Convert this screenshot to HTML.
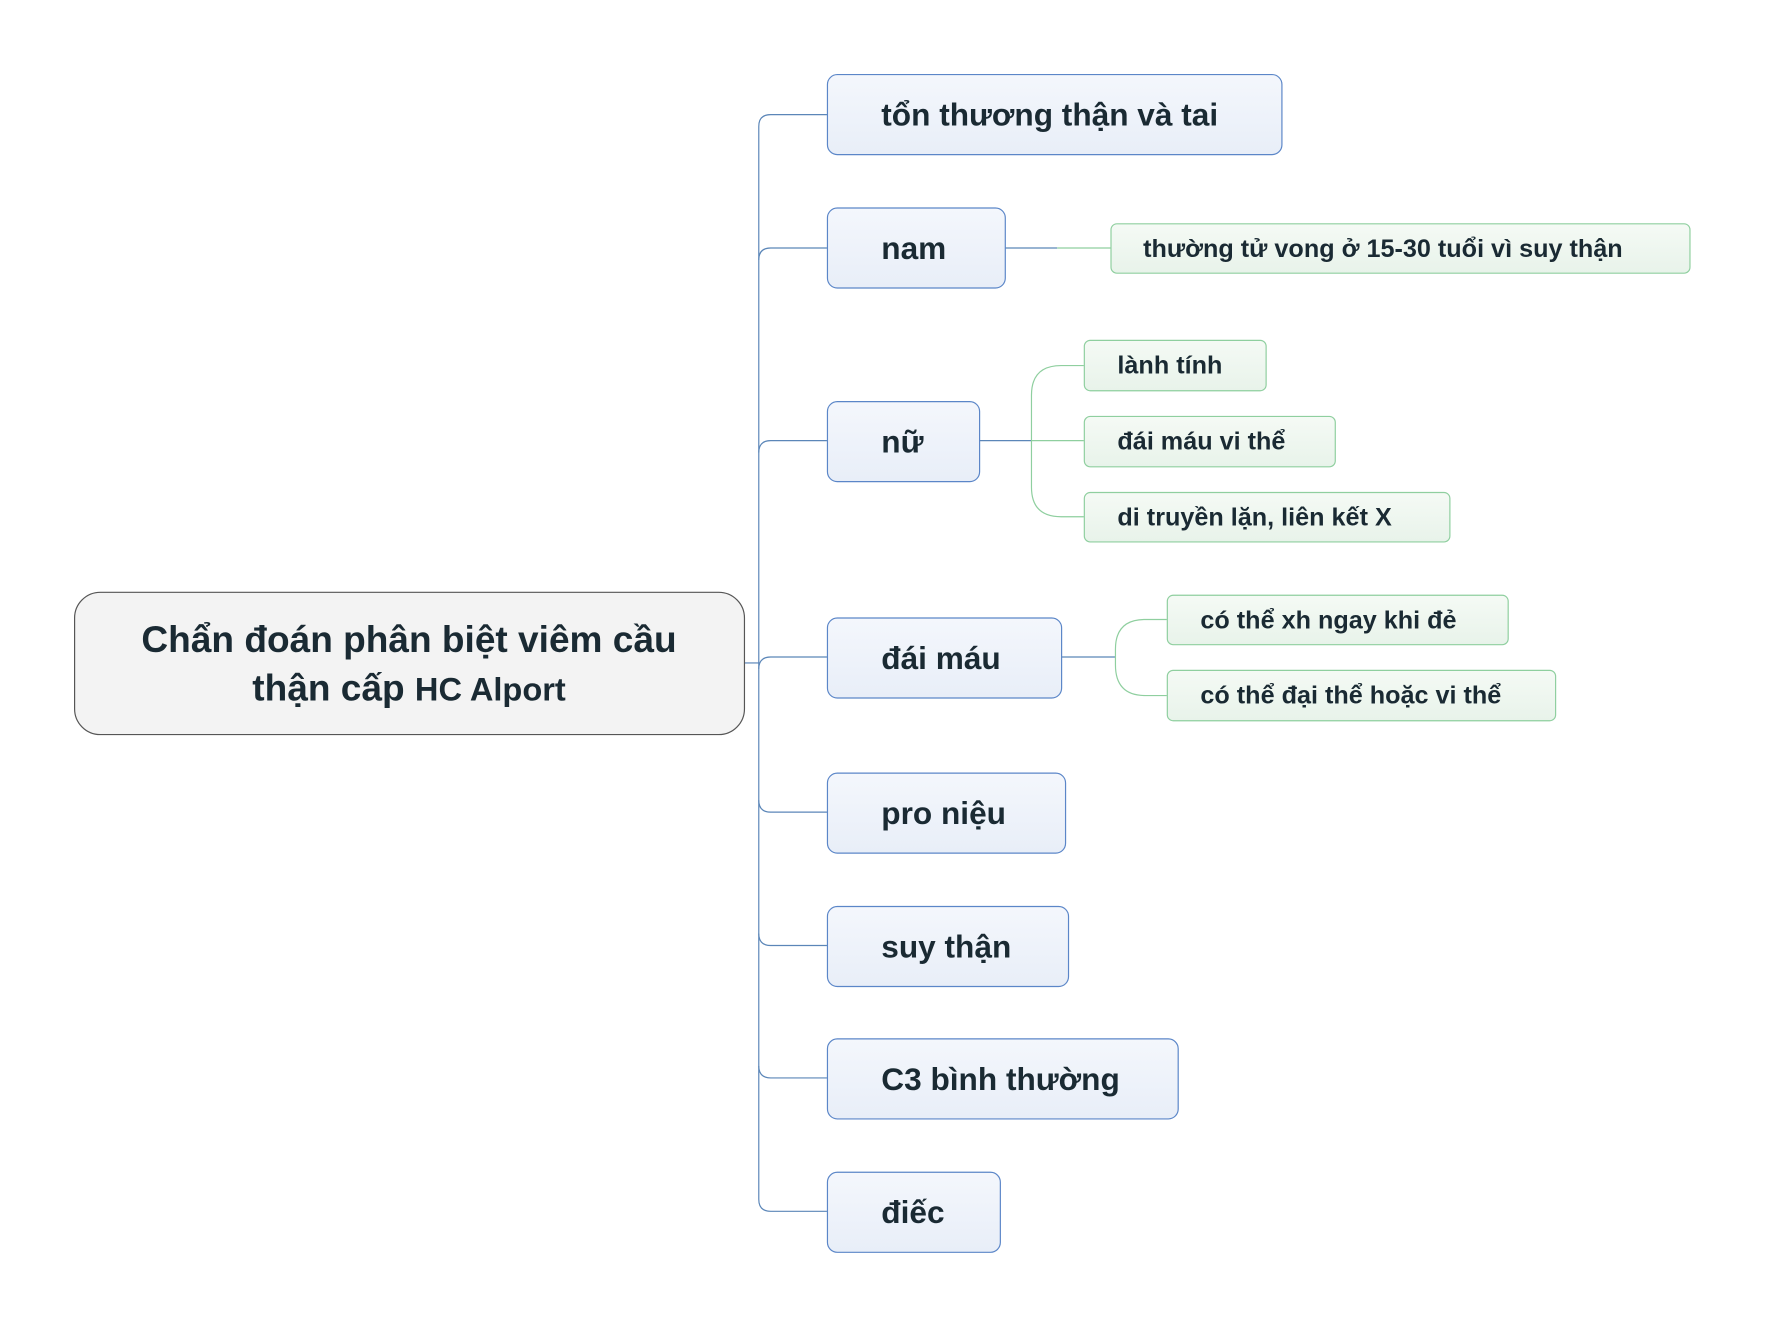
<!DOCTYPE html>
<html><head><meta charset="utf-8"><style>
html,body{margin:0;padding:0;background:#fff}
svg text{font-family:"Liberation Sans",sans-serif;font-weight:bold;fill:#1a2a33}
</style></head><body>
<svg width="1767" height="1328" viewBox="0 0 1767 1328" xmlns="http://www.w3.org/2000/svg">
<defs>
<linearGradient id="bg" x1="0" y1="0" x2="0" y2="1"><stop offset="0" stop-color="#f4f7fc"/><stop offset="1" stop-color="#e8eef8"/></linearGradient>
<linearGradient id="gg" x1="0" y1="0" x2="0" y2="1"><stop offset="0" stop-color="#f5faf5"/><stop offset="1" stop-color="#e8f3ea"/></linearGradient>
</defs>
<g transform="scale(0.988)">
<g fill="none" stroke="#5b86b8" stroke-width="1.2">
<path d="M754 671 H768"/>
<path d="M837 116 H780 Q768 116 768 128 V1214 Q768 1226 780 1226 H837"/>
<path d="M837 251 H780 Q768 251 768 263"/>
<path d="M837 446 H780 Q768 446 768 458"/>
<path d="M837 665 H780 Q768 665 768 677"/>
<path d="M837 822 H780 Q768 822 768 810"/>
<path d="M837 957 H780 Q768 957 768 945"/>
<path d="M837 1091 H780 Q768 1091 768 1079"/>
<path d="M1017 251 H1070"/>
<path d="M991 446 H1044"/>
<path d="M1074 665 H1129"/>
</g>
<g fill="none" stroke="#8fcf9f" stroke-width="1.2">
<path d="M1070 251 H1124"/>
<path d="M1097 370 H1074 Q1044 370 1044 400 V493 Q1044 523 1074 523 H1097"/>
<path d="M1044 446 H1097"/>
<path d="M1181 627 H1159 Q1129 627 1129 657 V673 Q1129 704 1159 704 H1181"/>
</g>
<rect x="75.5" y="599.5" width="678" height="144" rx="26" fill="#f3f3f3" stroke="#555" stroke-width="1.2"/>
<text x="414" y="660" font-size="37.5" text-anchor="middle">Chẩn đoán phân biệt viêm cầu</text>
<text x="414" y="709" font-size="37.5" text-anchor="middle">thận cấp <tspan font-size="33">HC Alport</tspan></text>
<g fill="url(#bg)" stroke="#5b86c8" stroke-width="1.2">
<rect x="837.5" y="75.5" width="460" height="81" rx="10"/>
<rect x="837.5" y="210.5" width="180" height="81" rx="10"/>
<rect x="837.5" y="406.5" width="154" height="81" rx="10"/>
<rect x="837.5" y="625.5" width="237" height="81" rx="10"/>
<rect x="837.5" y="782.5" width="241" height="81" rx="10"/>
<rect x="837.5" y="917.5" width="244" height="81" rx="10"/>
<rect x="837.5" y="1051.5" width="355" height="81" rx="10"/>
<rect x="837.5" y="1186.5" width="175" height="81" rx="10"/>
</g>
<g font-size="32">
<text x="892" y="127">tổn thương thận và tai</text>
<text x="892" y="262">nam</text>
<text x="892" y="458">nữ</text>
<text x="892" y="677">đái máu</text>
<text x="892" y="834">pro niệu</text>
<text x="892" y="969">suy thận</text>
<text x="892" y="1103">C3 bình thường</text>
<text x="892" y="1238">điếc</text>
</g>
<g fill="url(#gg)" stroke="#8fcf9f" stroke-width="1.2">
<rect x="1124.5" y="226.5" width="586" height="50" rx="6"/>
<rect x="1097.5" y="344.5" width="184" height="51" rx="6"/>
<rect x="1097.5" y="421.5" width="254" height="51" rx="6"/>
<rect x="1097.5" y="498.5" width="370" height="50" rx="6"/>
<rect x="1181.5" y="602.5" width="345" height="50" rx="6"/>
<rect x="1181.5" y="678.5" width="393" height="51" rx="6"/>
</g>
<g font-size="25.5">
<text x="1157" y="260">thường tử vong ở 15-30 tuổi vì suy thận</text>
<text x="1131" y="378">lành tính</text>
<text x="1131" y="455">đái máu vi thể</text>
<text x="1131" y="532">di truyền lặn, liên kết X</text>
<text x="1215" y="636">có thể xh ngay khi đẻ</text>
<text x="1215" y="712">có thể đại thể hoặc vi thể</text>
</g>
</g>
</svg>
</body></html>
